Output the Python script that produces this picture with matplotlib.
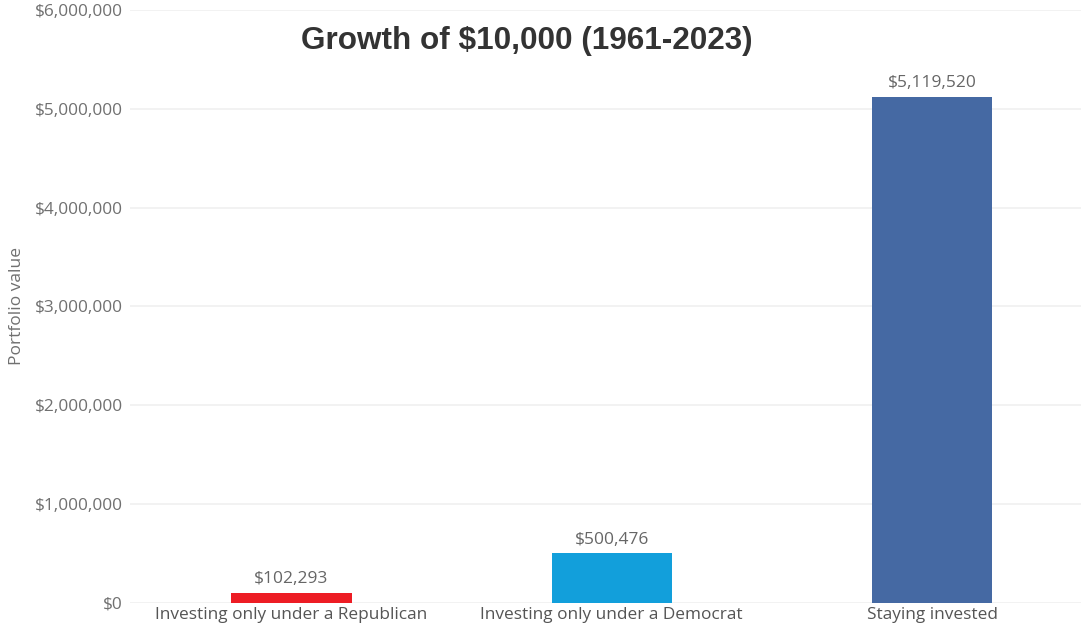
import matplotlib.pyplot as plt
from matplotlib.ticker import FuncFormatter

categories = ["Investing only under a Republican", "Investing only under a Democrat", "Staying invested"]
values = [102293, 500476, 5119520]
bar_colors = ["#ED1C24", "#129FDB", "#4569A3"]
yticks = [0, 1000000, 2000000, 3000000, 4000000, 5000000, 6000000]

plt.rcParams['font.family'] = ['Open Sans', 'DejaVu Sans']

fig = plt.figure(figsize=(10.81, 6.28), dpi=100)
ax = fig.add_axes([0.120, 0.040, 0.880, 0.944])

x = range(len(categories))
bars = ax.bar(x, values, width=0.375, color=bar_colors, zorder=2)

# value labels on top
for b, v in zip(bars, values):
    ax.text(b.get_x() + b.get_width() / 2, v + 60000, "${:,}".format(v),
            ha="center", va="bottom", fontsize=12.5, color="#666666")

ax.set_xlim(-0.505, 2.465)
ax.set_ylim(0, 6000000)
ax.set_yticks(yticks)
ax.yaxis.set_major_formatter(FuncFormatter(lambda v, p: "${:,.0f}".format(v)))
ax.set_xticks(list(x))
ax.set_xticklabels(categories)
ax.tick_params(axis="both", length=0, labelsize=12.4, colors="#707070")
ax.tick_params(axis="x", pad=3, colors="#555555")
ax.tick_params(axis="y", pad=5)

ax.grid(axis="y", color="#f0f0f0", linewidth=1.2, zorder=0)
for s in ax.spines.values():
    s.set_visible(False)

fig.text(0.016, 0.512, "Portfolio value", rotation=90, ha="center", va="center",
         fontsize=12.5, color="#707070")
fig.text(0.487, 0.935, "Growth of $10,000 (1961-2023)", ha="center", va="center",
         fontsize=22.7, fontweight="bold", color="#333333", family="Liberation Sans")

fig.savefig("out.png", dpi=100)
